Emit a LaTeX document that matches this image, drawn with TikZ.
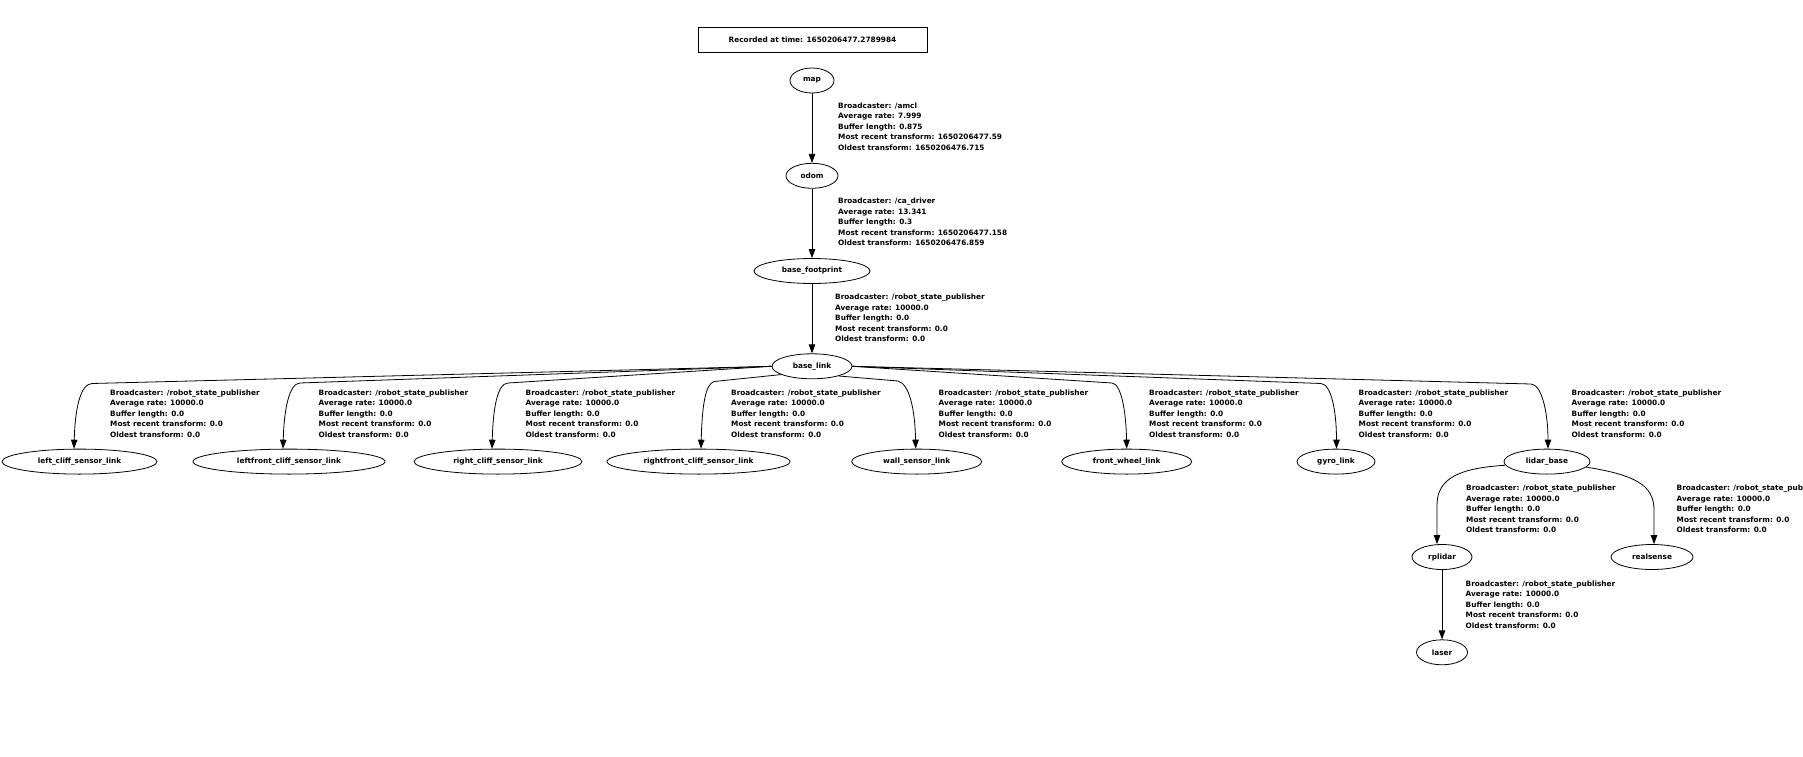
\documentclass[tikz,border=0pt]{standalone}
\usepackage{fontspec}
\setmainfont{DejaVu Sans}
\usetikzlibrary{shapes.geometric,arrows.meta}
\newcommand\tff{\fontsize{7.35pt}{10.5pt}\selectfont\bfseries}
\newcommand\rsplabel{Broadcaster: /robot\_state\_publisher\\Average rate: 10000.0\\Buffer length: 0.0\\Most recent transform: 0.0\\Oldest transform: 0.0}
\begin{document}
\begin{tikzpicture}[x=1pt,y=-1pt,
  nd/.style={draw, ellipse, inner sep=0pt, minimum height=25pt, line width=0.8pt, font=\tff},
  lab/.style={anchor=west, align=left, inner sep=0pt, font=\tff},
  edge/.style={line width=0.8pt, -{Triangle[length=9pt,width=6.5pt]}},
]
\useasboundingbox (0,0) rectangle (1803,757);
\fill[white] (0,0) rectangle (1803,757);

\node[draw, line width=0.8pt, minimum width=229pt, minimum height=25pt, inner sep=0pt, font=\tff] (title) at (812.5,39.5) {Recorded at time: 1650206477.2789984};

% nodes
\node[nd, minimum width=44pt] (map) at (812,80.5) {map};
\node[nd, minimum width=52pt] (odom) at (812,175.8) {odom};
\node[nd, minimum width=116pt] (bf) at (812,271) {base\_footprint};
\node[nd, minimum width=80pt] (bl) at (812,366.3) {base\_link};
\node[nd, minimum width=155pt] (lc) at (79.5,461.6) {left\_cliff\_sensor\_link};
\node[nd, minimum width=192pt] (lfc) at (289,461.6) {leftfront\_cliff\_sensor\_link};
\node[nd, minimum width=168pt] (rc) at (498,461.6) {right\_cliff\_sensor\_link};
\node[nd, minimum width=183pt] (rfc) at (698.5,461.6) {rightfront\_cliff\_sensor\_link};
\node[nd, minimum width=130pt] (wall) at (916.7,461.6) {wall\_sensor\_link};
\node[nd, minimum width=130pt] (fw) at (1126.7,461.6) {front\_wheel\_link};
\node[nd, minimum width=78pt] (gyro) at (1336,461.6) {gyro\_link};
\node[nd, minimum width=86pt] (lb) at (1547,461.6) {lidar\_base};
\node[nd, minimum width=60pt] (rp) at (1442,557) {rplidar};
\node[nd, minimum width=82pt] (rs) at (1652,557) {realsense};
\node[nd, minimum width=51pt] (laser) at (1442,652.3) {laser};

% straight edges
\draw[edge] (map) -- (odom);
\draw[edge] (odom) -- (bf);
\draw[edge] (bf) -- (bl);
\draw[edge] (rp) -- (laser);

% fan from base_link
\draw[edge] (bl.west) -- (92,383.5) .. controls (80,384) and (75,410) .. ([xshift=-5.5pt]lc.north);
\draw[edge] (bl.west) -- (300,383) .. controls (289,383.4) and (284,410) .. ([xshift=-6pt]lfc.north);
\draw[edge] (bl.west) -- (508,383) .. controls (497,383.5) and (493,410) .. ([xshift=-6pt]rc.north);
\draw[edge] (bl.195) -- (714,381.5) .. controls (705,384) and (702,408) .. ([xshift=2.5pt]rfc.north);
\draw[edge] (bl.-20) -- (898,381) .. controls (909,384) and (915,408) .. ([xshift=-1pt]wall.north);
\draw[edge] (bl.east) -- (1112,383) .. controls (1121,384) and (1126,410) .. (fw.north);
\draw[edge] (bl.east) -- (1321,383.5) .. controls (1331,384.2) and (1336.5,410) .. ([xshift=0.5pt]gyro.north);
\draw[edge] (bl.east) -- (1531,384) .. controls (1541,384.5) and (1548,410) .. ([xshift=1pt]lb.north);

% from lidar_base
\draw[edge] (lb.185) .. controls (1460,468) and (1437,478) .. (1437,505) -- ([xshift=-5pt]rp.north);
\draw[edge] (lb.-8) .. controls (1635,475) and (1654,485) .. (1654,510) -- ([xshift=2pt]rs.north);

% labels
\node[lab] (l1) at (838,126.3) {Broadcaster: /amcl\\Average rate: 7.999\\Buffer length: 0.875\\Most recent transform: 1650206477.59\\Oldest transform: 1650206476.715};
\node[lab] (l2) at (838,222) {Broadcaster: /ca\_driver\\Average rate: 13.341\\Buffer length: 0.3\\Most recent transform: 1650206477.158\\Oldest transform: 1650206476.859};
\node[lab] (l3) at (835,318) {\rsplabel};
\node[lab] (l4) at (110,413.5) {\rsplabel};
\node[lab] (l5) at (318.5,413.5) {\rsplabel};
\node[lab] (l6) at (525.5,413.5) {\rsplabel};
\node[lab] (l7) at (731,413.5) {\rsplabel};
\node[lab] (l8) at (938.5,413.5) {\rsplabel};
\node[lab] (l9) at (1149,413.5) {\rsplabel};
\node[lab] (l10) at (1358.5,413.5) {\rsplabel};
\node[lab] (l11) at (1571.5,413.5) {\rsplabel};
\node[lab] (l12) at (1466,509) {\rsplabel};
\node[lab] (l13) at (1676.5,509) {\rsplabel};
\node[lab] (l14) at (1465.5,604.5) {\rsplabel};
\end{tikzpicture}
\end{document}
